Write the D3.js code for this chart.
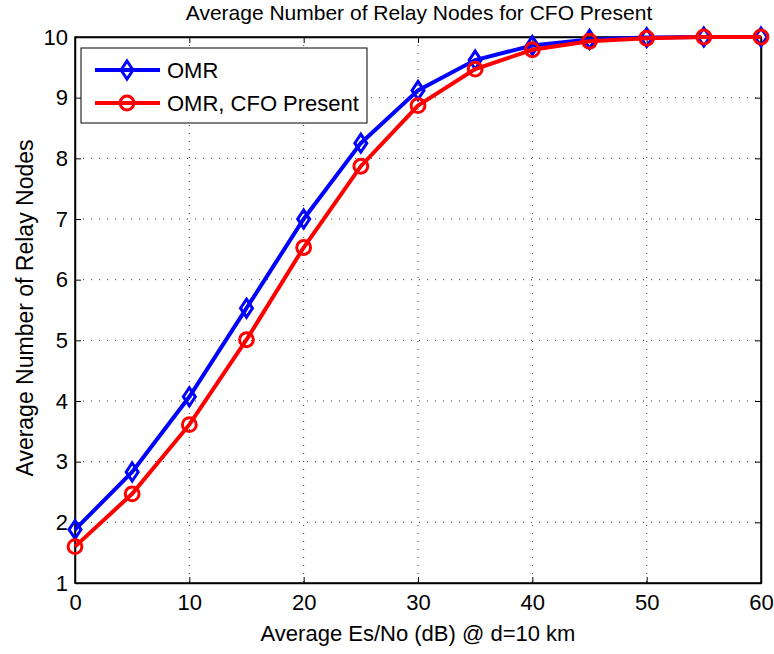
<!DOCTYPE html>
<html>
<head>
<meta charset="utf-8">
<script src="https://cdn.jsdelivr.net/npm/d3@7"></script>
<style>
  body { margin: 0; background: #fff; }
  text { font-family: "Liberation Sans", Arial, sans-serif; }
</style>
</head>
<body>
<svg id="chart" width="774" height="654"></svg>
<script>
"use strict";

// values
var snr = [0, 5, 10, 15, 20, 25, 30, 35, 40, 45, 50, 55, 60];
var omr = [1.88, 2.83, 4.07, 5.53, 7.0, 8.25, 9.12, 9.62, 9.86, 9.96, 9.99, 10, 10];
var omrCfo = [1.6, 2.47, 3.61, 5.01, 6.53, 7.87, 8.87, 9.47, 9.79, 9.93, 9.98, 10, 10];
var xTicks = [0, 10, 20, 30, 40, 50, 60];
var yTicks = [1, 2, 3, 4, 5, 6, 7, 8, 9, 10];
var seriesNames = ["OMR", "OMR, CFO Present"];

var margin = {top: 37, left: 75, right: 13, bottom: 71};
var width = 774 - margin.left - margin.right;
var height = 654 - margin.top - margin.bottom;

var svg = d3.select("#chart");
var g = svg.append("g").attr("transform", "translate(" + margin.left + "," + margin.top + ")");

var x = d3.scaleLinear().domain([0, 60]).range([0, width]);
var y = d3.scaleLinear().domain([1, 10]).range([height, 0]);

// dotted grid
g.append("g").selectAll("line").data(xTicks.slice(1, -1)).enter().append("line")
  .attr("x1", function(d) { return x(d); }).attr("x2", function(d) { return x(d); })
  .attr("y1", 0).attr("y2", height)
  .attr("stroke", "#333").attr("stroke-width", 1).attr("stroke-dasharray", "1,7");
g.append("g").selectAll("line").data(yTicks.slice(1, -1)).enter().append("line")
  .attr("y1", function(d) { return y(d); }).attr("y2", function(d) { return y(d); })
  .attr("x1", 0).attr("x2", width)
  .attr("stroke", "#333").attr("stroke-width", 1).attr("stroke-dasharray", "1,7");

// axes, ticks pointing inward like matlab
g.append("g").attr("transform", "translate(0," + height + ")")
  .call(d3.axisBottom(x).tickValues(xTicks).tickSizeInner(-6).tickSizeOuter(0).tickPadding(11));
g.append("g")
  .call(d3.axisLeft(y).tickValues(yTicks).tickSizeInner(-6).tickSizeOuter(0).tickPadding(7));
g.append("g")
  .call(d3.axisTop(x).tickValues(xTicks).tickSizeInner(-6).tickSizeOuter(0).tickFormat(""));
g.append("g").attr("transform", "translate(" + width + ",0)")
  .call(d3.axisRight(y).tickValues(yTicks).tickSizeInner(-6).tickSizeOuter(0).tickFormat(""));
g.selectAll(".domain").attr("stroke", "#000").attr("stroke-width", 1.5);
g.selectAll(".tick line").attr("stroke", "#000");
g.selectAll(".tick text").attr("font-size", "22px").attr("fill", "#000")
  .style("font-family", "'Liberation Sans', Arial, sans-serif");

g.append("rect").attr("width", width).attr("height", height)
  .attr("fill", "none").attr("stroke", "#000").attr("stroke-width", 1.5);

var line = d3.line()
  .x(function(d) { return x(d[0]); })
  .y(function(d) { return y(d[1]); });

function drawSeries(vals, color, marker) {
  var pts = snr.map(function(s, i) { return [s, vals[i]]; });
  g.append("path").datum(pts).attr("d", line)
    .attr("fill", "none").attr("stroke", color).attr("stroke-width", 4);
  g.selectAll(null).data(pts).enter().append("path")
    .attr("transform", function(d) { return "translate(" + x(d[0]) + "," + y(d[1]) + ")"; })
    .attr("d", marker)
    .attr("fill", "none").attr("stroke", color).attr("stroke-width", 3);
}
var diamond = "M0,-9L6,0L0,9L-6,0Z";
var circle = d3.symbol().type(d3.symbolCircle).size(150)();

drawSeries(omr, "#0000ff", diamond);
drawSeries(omrCfo, "#ff0000", circle);

// legend
var leg = svg.append("g").attr("transform", "translate(81,48)");
leg.append("rect").attr("width", 286).attr("height", 75)
  .attr("fill", "#fff").attr("stroke", "#000").attr("stroke-width", 1);
[["#0000ff", diamond], ["#ff0000", circle]].forEach(function(s, i) {
  var ly = 22 + i * 33;
  leg.append("line").attr("x1", 14).attr("x2", 79).attr("y1", ly).attr("y2", ly)
    .attr("stroke", s[0]).attr("stroke-width", 4);
  leg.append("path").attr("transform", "translate(46," + ly + ")").attr("d", s[1])
    .attr("fill", "none").attr("stroke", s[0]).attr("stroke-width", 3);
  leg.append("text").attr("x", 86).attr("y", ly + 8).attr("font-size", "22px")
    .text(seriesNames[i]);
});

// titles
svg.append("text").attr("x", 419).attr("y", 20).attr("text-anchor", "middle")
  .attr("font-size", "21px").text("Average Number of Relay Nodes for CFO Present");
svg.append("text").attr("x", 418).attr("y", 641).attr("text-anchor", "middle")
  .attr("font-size", "22px").text("Average Es/No (dB) @ d=10 km");
svg.append("text").attr("transform", "translate(33,308) rotate(-90)").attr("text-anchor", "middle")
  .attr("font-size", "23px").text("Average Number of Relay Nodes");
</script>
</body>
</html>
